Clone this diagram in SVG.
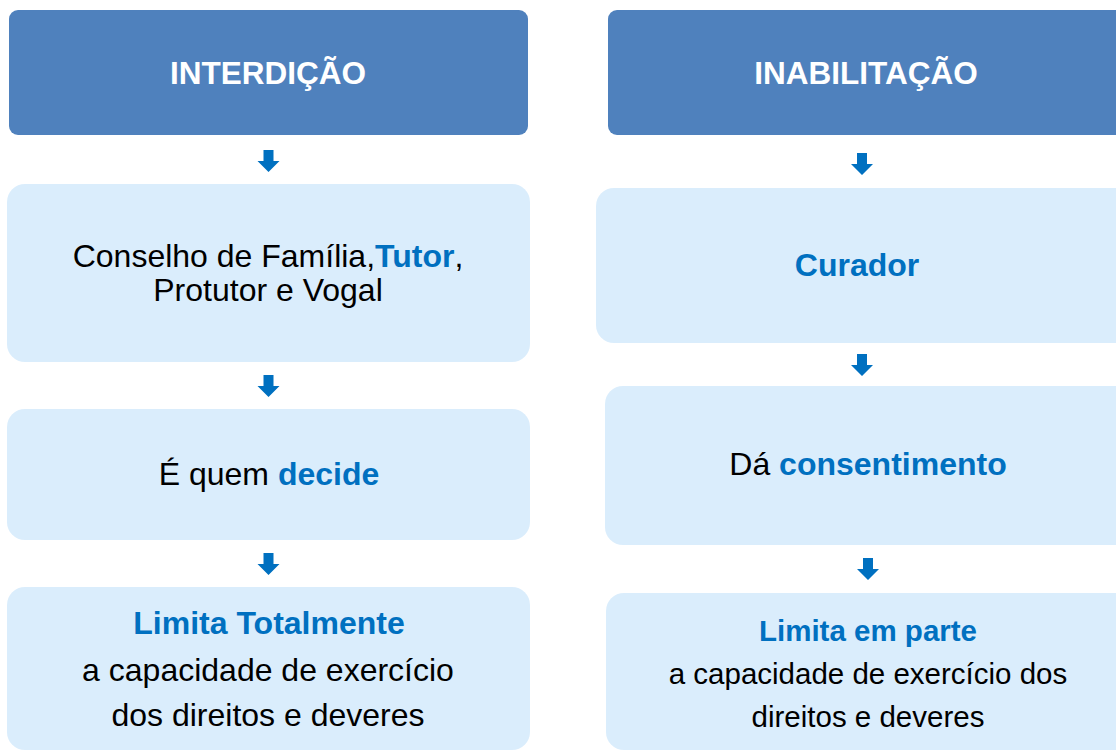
<svg xmlns="http://www.w3.org/2000/svg" width="1116" height="751" viewBox="0 0 1116 751">
<defs>
<style>
.hdr{fill:#4F81BD}
.box{fill:#DAEDFC}
.arr{fill:#0070C0}
text{font-family:"Liberation Sans",Arial,sans-serif;text-anchor:middle}
.ht{fill:#FFFFFF;font-weight:bold;font-size:31.5px}
.t{fill:#000000;font-size:32px}
.s{font-size:29.5px}
.b{fill:#0070C0;font-weight:bold}
</style>
<path id="ar" d="M-5,0 H5 V11 H11 L0,22 L-11,11 H-5 Z"/>
</defs>
<rect width="1116" height="751" fill="#FFFFFF"/>
<g id="interdicao">
<rect class="hdr" x="9" y="10" width="519" height="125" rx="9"/>
<text class="ht" x="268" y="84">INTERDIÇÃO</text>
</g>
<g id="conselho">
<rect class="box" x="7" y="184" width="523" height="178" rx="18"/>
<text class="t" x="268" y="267">Conselho de Família,<tspan class="b">Tutor</tspan>,</text>
<text class="t" x="268" y="301">Protutor e Vogal</text>
</g>
<g id="decide">
<rect class="box" x="7" y="409" width="523" height="131" rx="18"/>
<text class="t" x="269" y="485">É quem <tspan class="b">decide</tspan></text>
</g>
<g id="limita-total">
<rect class="box" x="7" y="587" width="523" height="163" rx="18"/>
<text class="t b" x="269" y="634">Limita Totalmente</text>
<text class="t" x="268" y="681">a capacidade de exercício</text>
<text class="t" x="268" y="726">dos direitos e deveres</text>
</g>
<g id="inabilitacao">
<rect class="hdr" x="608" y="10" width="530" height="125" rx="9"/>
<text class="ht" x="866" y="84">INABILITAÇÃO</text>
</g>
<g id="curador">
<rect class="box" x="596" y="188" width="540" height="155" rx="18"/>
<text class="t b" x="857" y="276">Curador</text>
</g>
<g id="consentimento">
<rect class="box" x="605" y="386" width="531" height="159" rx="18"/>
<text class="t" x="868" y="475">Dá <tspan class="b">consentimento</tspan></text>
</g>
<g id="limita-parte">
<rect class="box" x="606" y="593" width="530" height="157" rx="18"/>
<text class="t b s" x="868" y="641">Limita em parte</text>
<text class="t s" x="868" y="684">a capacidade de exercício dos</text>
<text class="t s" x="868" y="727">direitos e deveres</text>
</g>
<g id="connectors">
<use href="#ar" class="arr" x="268.5" y="150"/>
<use href="#ar" class="arr" x="268.5" y="375"/>
<use href="#ar" class="arr" x="268.5" y="553"/>
<use href="#ar" class="arr" x="862" y="153"/>
<use href="#ar" class="arr" x="862" y="354"/>
<use href="#ar" class="arr" x="868" y="558"/>
</g>
</svg>
